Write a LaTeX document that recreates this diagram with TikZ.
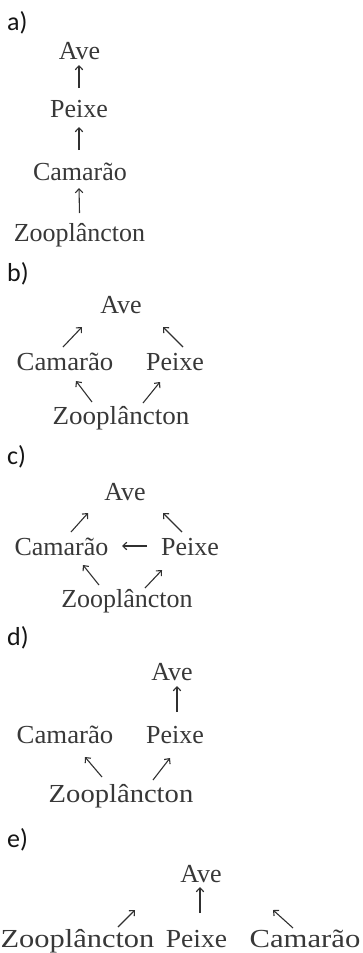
\documentclass[tikz,border=0pt]{standalone}
\usepackage{fontspec}
\setmainfont{Liberation Serif}
\newfontfamily\labelfont{Carlito}
\usetikzlibrary{arrows.meta}
\definecolor{inkgray}{HTML}{383838}
\definecolor{arrowgray}{HTML}{303030}
\definecolor{labelink}{HTML}{151515}
\begin{document}
\begin{tikzpicture}[x=1pt,y=-1pt,
  species/.style={inner sep=0pt, anchor=base, text=inkgray,
    font=\fontsize{26}{30}\selectfont},
  stretched/.style={font=\fontsize{26}{30}\selectfont\addfontfeature{FakeStretch=#1}},
  optlabel/.style={inner sep=0pt, anchor=base west, text=labelink,
    font=\labelfont\fontsize{26}{30}\selectfont},
  arr/.style={draw=arrowgray, line width=1.1pt,
    -{Straight Barb[length=4pt,width=7.5pt,line width=1.1pt]}}]
\useasboundingbox (0,0) rectangle (362,953);

% ---------- a) linear chain ----------
\node[optlabel] (la) at (7,30) {a)};
\node[species] (aAve) at (79.5,59) {Ave};
\node[species] (aPei) at (79,117) {Peixe};
\node[species] (aCam) at (80,180) {Camarão};
\node[species] (aZoo) at (79.5,241) {Zooplâncton};
\draw[arr] ([shift={(0,-28)}]aZoo.base) -- ([shift={(-1,8)}]aCam.base);
\draw[arr] ([shift={(-1,-30)}]aCam.base) -- ([shift={(0,10)}]aPei.base);
\draw[arr] ([shift={(0,-29)}]aPei.base) -- ([shift={(-0.5,6)}]aAve.base);

% ---------- b) two parallel chains ----------
\node[optlabel] (lb) at (7,281) {b)};
\node[species] (bAve) at (121,313) {Ave};
\node[species,stretched=1.03] (bCam) at (65,370) {Camarão};
\node[species] (bPei) at (175,370) {Peixe};
\node[species,stretched=1.04] (bZoo) at (121,424) {Zooplâncton};
\draw[arr] ([shift={(-2,-23)}]bCam.base) -- ([shift={(-39,14)}]bAve.base);
\draw[arr] ([shift={(8,-23)}]bPei.base) -- ([shift={(42,14)}]bAve.base);
\draw[arr] ([shift={(-29,-22)}]bZoo.base) -- ([shift={(11,11)}]bCam.base);
\draw[arr] ([shift={(22,-21)}]bZoo.base) -- ([shift={(-15,12)}]bPei.base);

% ---------- c) web with fish eating shrimp ----------
\node[optlabel] (lc) at (7,464) {c)};
\node[species] (cAve) at (125,500) {Ave};
\node[species] (cCam) at (61.5,555) {Camarão};
\node[species] (cPei) at (190,555) {Peixe};
\node[species] (cZoo) at (127,607) {Zooplâncton};
\draw[arr] ([shift={(9.5,-23)}]cCam.base) -- ([shift={(-37,13)}]cAve.base);
\draw[arr] ([shift={(-8,-23)}]cPei.base) -- ([shift={(38,13)}]cAve.base);
\draw[arr] ([shift={(-43,-9)}]cPei.base) -- ([shift={(60.5,-9)}]cCam.base);
\draw[arr] ([shift={(-28,-22)}]cZoo.base) -- ([shift={(21.5,10)}]cCam.base);
\draw[arr] ([shift={(18,-19)}]cZoo.base) -- ([shift={(-28,15)}]cPei.base);

% ---------- d) bird eats only fish ----------
\node[optlabel] (ld) at (7,645) {d)};
\node[species] (dAve) at (172,680) {Ave};
\node[species,stretched=1.03] (dCam) at (65,743) {Camarão};
\node[species] (dPei) at (175,743) {Peixe};
\node[species,stretched=1.1] (dZoo) at (121,802) {Zooplâncton};
\draw[arr] ([shift={(2,-31)}]dPei.base) -- ([shift={(5,6)}]dAve.base);
\draw[arr] ([shift={(-19,-25)}]dZoo.base) -- ([shift={(20,14)}]dCam.base);
\draw[arr] ([shift={(32,-22)}]dZoo.base) -- ([shift={(-5,15)}]dPei.base);

% ---------- e) bird eats everything ----------
\node[optlabel] (le) at (7,847) {e)};
\node[species] (eAve) at (201,882) {Ave};
\node[species,stretched=1.17] (eZoo) at (77.5,947) {Zooplâncton};
\node[species,stretched=1.06] (ePei) at (196.5,947) {Peixe};
\node[species,stretched=1.18] (eCam) at (305,947) {Camarão};
\draw[arr] ([shift={(3.5,-34)}]ePei.base) -- ([shift={(-1,5)}]eAve.base);
\draw[arr] ([shift={(40.5,-20)}]eZoo.base) -- ([shift={(-66,28)}]eAve.base);
\draw[arr] ([shift={(-12,-19)}]eCam.base) -- ([shift={(72,28)}]eAve.base);
\end{tikzpicture}
\end{document}
